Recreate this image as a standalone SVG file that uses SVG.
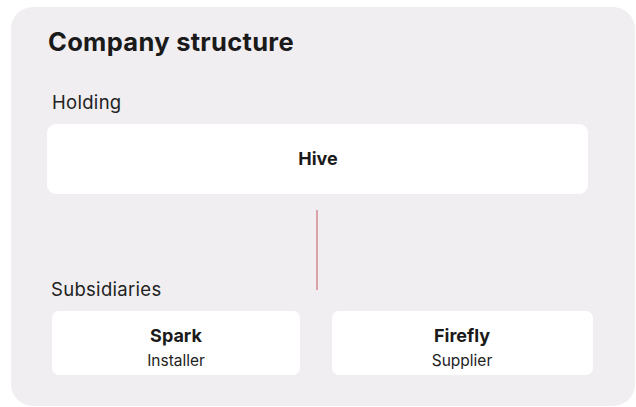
<svg xmlns="http://www.w3.org/2000/svg" width="636" height="407" viewBox="0 0 636 407">
<style>
.t{font-family:Inter,"Liberation Sans",sans-serif;fill:#1a1a1a}
.title{font-size:25.5px;font-weight:700;letter-spacing:0.3px}
.sec{font-size:18.5px;fill:#222;letter-spacing:0.3px}
.nm{font-size:18px;font-weight:700;text-anchor:middle}
.sub{font-size:15.5px;text-anchor:middle;fill:#222}
.box{fill:#ffffff}
</style>
<rect width="636" height="407" fill="#ffffff"/>
<rect x="11" y="7" width="624" height="399" rx="22" fill="#f0eef0"/>
<text class="t title" x="48" y="51">Company structure</text>
<text class="t sec" x="52" y="109">Holding</text>
<text class="t sec" x="51" y="296">Subsidiaries</text>
<g id="connectors">
<line x1="317" y1="210" x2="317" y2="290" stroke="#d9a1a8" stroke-width="2"/>
</g>
<g id="hive">
<rect class="box" x="47" y="124" width="541" height="70" rx="9"/>
<text class="t nm" x="318" y="165">Hive</text>
</g>
<g id="spark">
<rect class="box" x="52" y="311" width="248" height="64" rx="7"/>
<text class="t nm" x="176" y="342">Spark</text>
<text class="t sub" x="176" y="366">Installer</text>
</g>
<g id="firefly">
<rect class="box" x="332" y="311" width="261" height="64" rx="7"/>
<text class="t nm" x="462" y="342">Firefly</text>
<text class="t sub" x="462" y="366">Supplier</text>
</g>
</svg>
